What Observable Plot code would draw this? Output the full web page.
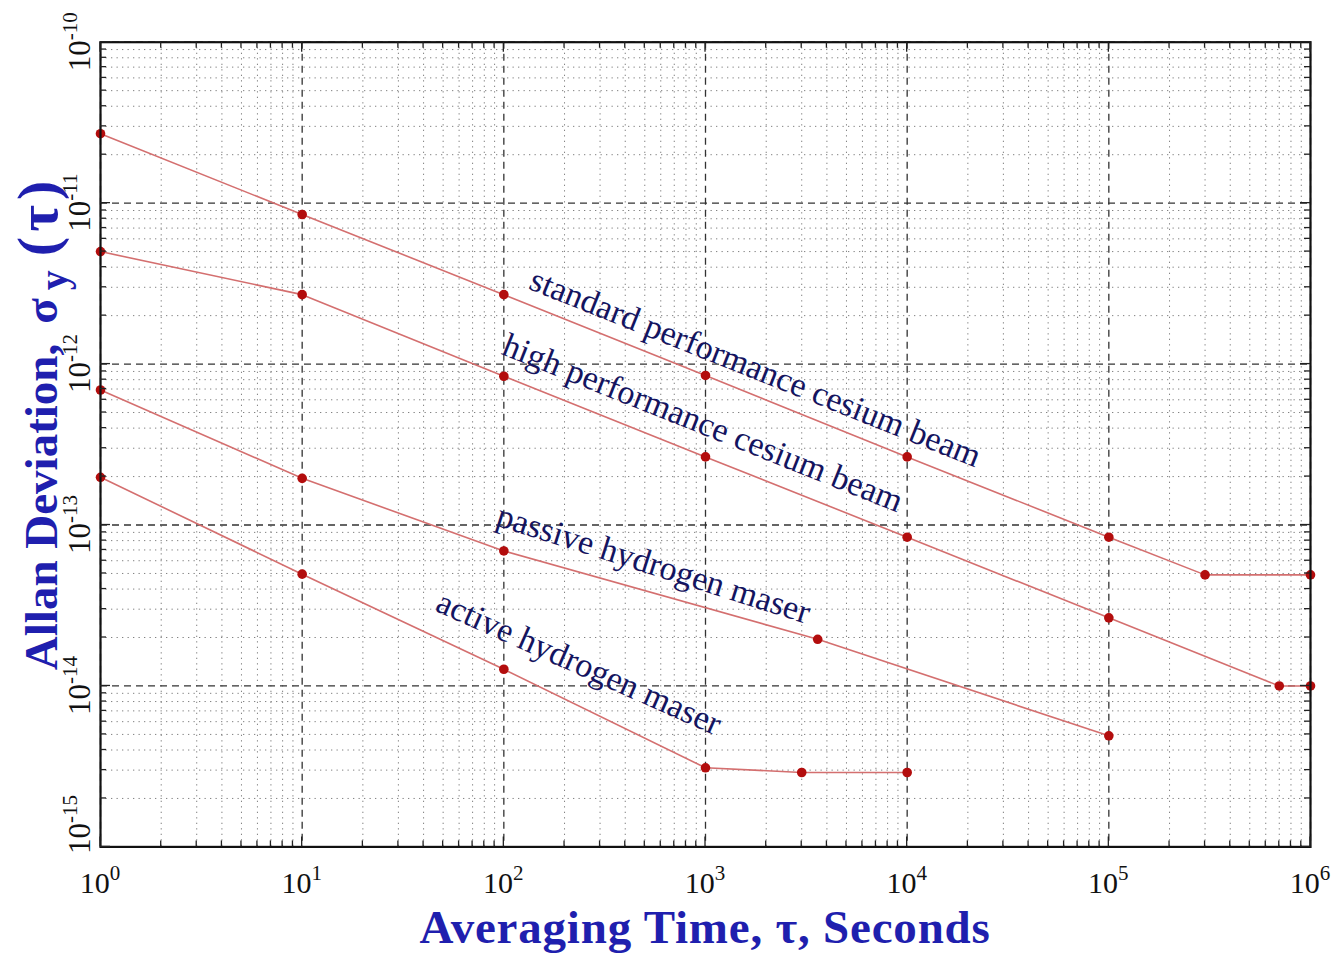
<!DOCTYPE html>
<html>
<head>
<meta charset="utf-8">
<script src="https://cdn.jsdelivr.net/npm/d3@7"></script>
<script src="https://cdn.jsdelivr.net/npm/@observablehq/plot@0.6"></script>
<style>
  body { margin: 0; background: #fff; }
  #chart svg { display: block; }
</style>
</head>
<body>
<div id="chart"></div>
<script>
// ---- Data ----
const seriesNames = [
  "standard performance cesium beam",
  "high performance cesium beam",
  "passive hydrogen maser",
  "active hydrogen maser"
];
const stdTau   = [1, 10, 100, 1000, 1e4, 1e5, 3e5, 1e6];
const stdSigma = [2.7e-11, 8.5e-12, 2.7e-12, 8.5e-13, 2.65e-13, 8.4e-14, 4.9e-14, 4.9e-14];
const highTau   = [1, 10, 100, 1000, 1e4, 1e5, 7e5, 1e6];
const highSigma = [5e-12, 2.7e-12, 8.4e-13, 2.65e-13, 8.4e-14, 2.65e-14, 1e-14, 1e-14];
const passiveTau   = [1, 10, 100, 3600, 1e5];
const passiveSigma = [6.9e-13, 1.95e-13, 6.9e-14, 1.95e-14, 4.9e-15];
const activeTau   = [1, 10, 100, 1000, 3000, 1e4];
const activeSigma = [1.98e-13, 4.95e-14, 1.27e-14, 3.1e-15, 2.9e-15, 2.9e-15];

// label anchor points (start of text baseline) and angles
const labelTau   = [131, 96, 90, 45];
const labelSigma = [2.95e-12, 1.16e-12, 1.0e-13, 2.95e-14];
const labelAngle = [21.8, 21.8, 17.6, 24];

// axis ticks
const xMajor = [1, 10, 100, 1000, 1e4, 1e5, 1e6];
const xExp   = ["0", "1", "2", "3", "4", "5", "6"];
const yMajor = [1e-15, 1e-14, 1e-13, 1e-12, 1e-11, 1e-10];
const yExp   = ["-15", "-14", "-13", "-12", "-11", "-10"];

const xTitle = "Averaging Time, \u03C4, Seconds";
const yTitleMain = "Allan Deviation,";
const yTitleSigma = "\u03C3";
const yTitleSub = "y";
const yTitleEnd = "(\u03C4)";

// ---- build tables ----
const table = [];
[[stdTau, stdSigma], [highTau, highSigma], [passiveTau, passiveSigma], [activeTau, activeSigma]]
  .forEach(([t, s], i) => t.forEach((tau, j) => table.push({series: seriesNames[i], tau, sigma: s[j]})));
const labels = seriesNames.map((name, i) => ({name, tau: labelTau[i], sigma: labelSigma[i], angle: labelAngle[i]}));

function minorOf(majors) {
  const out = [];
  for (let i = 0; i < majors.length - 1; i++)
    for (let m = 2; m <= 9; m++) out.push(majors[i] * m);
  return out;
}
const xMinor = minorOf(xMajor);
const yMinor = minorOf(yMajor);

const SERIF = "'Liberation Serif', 'Times New Roman', Times, serif";
const LINE_COLOR = "#d46f6f";
const DOT_COLOR = "#b30d0d";
const LABEL_COLOR = "#14145f";
const TITLE_COLOR = "#1f1fae";

// inward frame ticks on all four sides
function frameTicks(index, scales, values, dims) {
  const {x, y} = scales;
  const L = dims.marginLeft, R = dims.width - dims.marginRight;
  const T = dims.marginTop, B = dims.height - dims.marginBottom;
  const g = d3.create("svg:g").attr("stroke", "#222").attr("stroke-width", 1.3);
  const add = (x1, y1, x2, y2) => g.append("line").attr("x1", x1).attr("y1", y1).attr("x2", x2).attr("y2", y2);
  for (const [vals, len] of [[xMajor, 10], [xMinor, 6]]) {
    for (const v of vals) { const px = x(v); add(px, B, px, B - len); add(px, T, px, T + len); }
  }
  for (const [vals, len] of [[yMajor, 10], [yMinor, 6]]) {
    for (const v of vals) { const py = y(v); add(L, py, L + len, py); add(R, py, R - len, py); }
  }
  return g.node();
}

// power-of-ten tick labels with real superscripts
function tickLabels(index, scales, values, dims) {
  const {x, y} = scales;
  const B = dims.height - dims.marginBottom;
  const g = d3.create("svg:g").attr("font-family", SERIF).attr("fill", "#111").attr("text-anchor", "middle");
  xMajor.forEach((v, i) => {
    const t = g.append("text").attr("x", x(v)).attr("y", B + 47).attr("font-size", 30);
    t.append("tspan").text("10");
    t.append("tspan").attr("dy", -13).attr("font-size", 21).text(xExp[i]);
  });
  yMajor.forEach((v, i) => {
    const py = Math.min(y(v), B - 22); // keep the lowest label clear of the x labels
    const t = g.append("text")
      .attr("transform", `translate(${dims.marginLeft - 10},${py}) rotate(-90)`)
      .attr("font-size", 31);
    t.append("tspan").text("10");
    t.append("tspan").attr("dy", -13).attr("font-size", 21).text(yExp[i]);
  });
  return g.node();
}

// axis titles
function titles(index, scales, values, dims) {
  const L = dims.marginLeft, R = dims.width - dims.marginRight;
  const T = dims.marginTop, B = dims.height - dims.marginBottom;
  const g = d3.create("svg:g").attr("font-family", SERIF).attr("fill", TITLE_COLOR)
    .attr("font-weight", "bold");
  g.append("text").attr("x", (L + R) / 2).attr("y", B + 96.5).attr("text-anchor", "middle")
    .attr("font-size", 47).attr("letter-spacing", 0.8).text(xTitle);
  const t = g.append("text").attr("text-anchor", "start").attr("font-size", 47)
    .attr("transform", `translate(${L - 43},${T + (B - T) * 0.781}) rotate(-90)`);
  t.append("tspan").text(yTitleMain);
  t.append("tspan").attr("dx", 20).text(yTitleSigma);
  t.append("tspan").attr("dx", 8).attr("dy", 10).attr("font-size", 40).text(yTitleSub);
  t.append("tspan").attr("dx", 14).attr("dy", -10).attr("font-size", 58).attr("letter-spacing", 5).text(yTitleEnd);
  return g.node();
}

const chart = Plot.plot({
  width: 1341,
  height: 954,
  marginLeft: 100,
  marginRight: 31,
  marginTop: 41.7,
  marginBottom: 107.6,
  style: {background: "#fff", overflow: "visible"},
  x: {type: "log", domain: [1, 1e6], axis: null},
  y: {type: "log", domain: [1e-15, 1e-10], axis: null},
  marks: [
    Plot.ruleX(xMinor, {x: d => d, stroke: "#808080", strokeWidth: 1, strokeDasharray: "1.3,4.2"}),
    Plot.ruleY(yMinor, {y: d => d, stroke: "#808080", strokeWidth: 1, strokeDasharray: "1.3,4.2"}),
    Plot.ruleX(xMajor, {x: d => d, stroke: "#333", strokeWidth: 1.3, strokeDasharray: "7,5"}),
    Plot.ruleY(yMajor, {y: d => d, stroke: "#333", strokeWidth: 1.3, strokeDasharray: "7,5"}),
    Plot.line(table, {x: "tau", y: "sigma", z: "series", stroke: LINE_COLOR, strokeWidth: 1.6}),
    Plot.dot(table, {x: "tau", y: "sigma", r: 4.8, fill: DOT_COLOR, stroke: "none"}),
    Plot.text(labels, {
      x: "tau", y: "sigma", text: "name", rotate: "angle",
      textAnchor: "start", lineAnchor: "bottom",
      fontFamily: SERIF, fontSize: 34, fill: LABEL_COLOR
    }),
    Plot.frame({stroke: "#111", strokeWidth: 2.2}),
    frameTicks,
    tickLabels,
    titles
  ]
});
document.getElementById("chart").appendChild(chart);
</script>
</body>
</html>
